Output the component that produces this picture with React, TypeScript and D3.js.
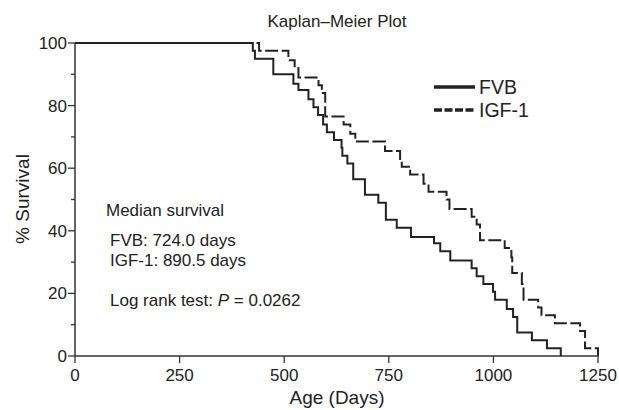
import React from "react";
import * as d3 from "d3";

const fvbDays = [0, 425, 430, 474, 522, 534, 558, 570, 581, 593, 602, 619, 637, 639, 651, 665, 693, 725, 743, 769, 803, 858, 873, 897, 948, 960, 976, 999, 1004, 1032, 1047, 1057, 1092, 1128, 1161];
const fvbSurv = [100, 97.5, 95, 90, 87, 85, 82, 79.5, 77, 74, 71.5, 69, 66.5, 64, 61.5, 56.5, 51.5, 49, 43.5, 41, 38, 36, 33.5, 30.5, 28, 25.5, 23, 20.5, 18, 15, 12.5, 7.5, 5, 2.5, 0];

const igfDays = [0, 440, 510, 525, 534, 582, 590, 598, 642, 658, 670, 741, 777, 781, 801, 833, 845, 888, 895, 948, 960, 968, 1027, 1043, 1045, 1068, 1072, 1107, 1115, 1147, 1207, 1219, 1250];
const igfSurv = [100, 97.5, 94.5, 92, 89, 86.5, 84, 76.5, 74, 71, 68.5, 65.5, 62.5, 60.5, 58, 55, 52.5, 50, 47, 44.5, 42, 37, 34.5, 31.5, 26.5, 23, 18, 15.5, 13, 10.5, 8, 2.5, 0];

const xTicks = [0, 250, 500, 750, 1000, 1250];
const yTicks = [0, 20, 40, 60, 80, 100];
const yMinorTicks = [10, 30, 50, 70, 90];

const title = "Kaplan–Meier Plot";
const xLabel = "Age (Days)";
const yLabel = "% Survival";
const seriesNames = ["FVB", "IGF-1"];

export default function App() {
  const W = 619, H = 410;
  const x = d3.scaleLinear().domain([0, 1250]).range([75, 598]);
  const y = d3.scaleLinear().domain([0, 100]).range([356, 43]);
  const line = d3.line<[number, number]>().x(d => x(d[0])).y(d => y(d[1])).curve(d3.curveStepAfter);
  const fvb = fvbDays.map((d, i) => [d, fvbSurv[i]] as [number, number]);
  const igf = igfDays.map((d, i) => [d, igfSurv[i]] as [number, number]);
  const font = "'Liberation Sans', Arial, Helvetica, sans-serif";
  const ink = "#222";
  return (
    <svg width={W} height={H} style={{ position: "absolute", left: 0, top: 0, background: "#fff" }} fontFamily={font}>
      <text x={337} y={27} textAnchor="middle" fontSize={17} fill={ink}>{title}</text>
      {/* axes */}
      <line x1={x(0)} x2={x(0)} y1={y(100)} y2={y(0)} stroke="#333" strokeWidth={1.5} />
      <line x1={x(0)} x2={x(1250)} y1={y(0)} y2={y(0)} stroke="#333" strokeWidth={1.5} />
      {yTicks.map(t => (
        <g key={"y" + t}>
          <line x1={x(0) - 7} x2={x(0)} y1={y(t)} y2={y(t)} stroke="#333" strokeWidth={1.3} />
          <text x={x(0) - 8} y={y(t) + 6} textAnchor="end" fontSize={17} fill={ink}>{t}</text>
        </g>
      ))}
      {yMinorTicks.map(t => (
        <line key={"ym" + t} x1={x(0) - 4} x2={x(0)} y1={y(t)} y2={y(t)} stroke="#333" strokeWidth={1.3} />
      ))}
      {xTicks.map(t => (
        <g key={"x" + t}>
          <line x1={x(t)} x2={x(t)} y1={y(0)} y2={y(0) + 7} stroke="#333" strokeWidth={1.3} />
          <text x={x(t)} y={y(0) + 25} textAnchor="middle" fontSize={17} fill={ink}>{t}</text>
        </g>
      ))}
      <text x={337} y={404} textAnchor="middle" fontSize={19} fill={ink}>{xLabel}</text>
      <text transform={`translate(29,${199}) rotate(-90)`} textAnchor="middle" fontSize={19} fill={ink}>{yLabel}</text>
      {/* curves */}
      <path d={line(igf) || ""} fill="none" stroke={ink} strokeWidth={2} strokeDasharray="13,3.5" />
      <path d={line(fvb) || ""} fill="none" stroke={ink} strokeWidth={2} />
      {/* legend */}
      <line x1={434} x2={475} y1={87} y2={87} stroke={ink} strokeWidth={3.5} />
      <text x={479} y={94} fontSize={19.5} fill={ink}>{seriesNames[0]}</text>
      <line x1={434} x2={475} y1={110} y2={110} stroke={ink} strokeWidth={3.5} strokeDasharray="8,2.5" />
      <text x={479} y={117} fontSize={19.5} fill={ink}>{seriesNames[1]}</text>
      {/* annotations */}
      <text x={106} y={216} fontSize={17} fill={ink}>Median survival</text>
      <text x={110} y={246} fontSize={17} fill={ink}>FVB: 724.0 days</text>
      <text x={110} y={266} fontSize={17} fill={ink}>IGF-1: 890.5 days</text>
      <text x={110} y={306} fontSize={17} fill={ink}>Log rank test: <tspan fontStyle="italic">P</tspan> = 0.0262</text>
    </svg>
  );
}
